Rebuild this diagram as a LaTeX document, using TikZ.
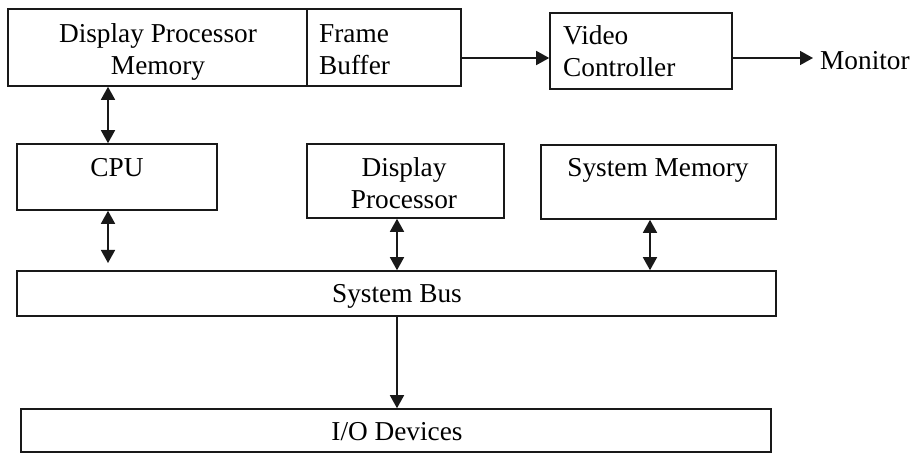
\documentclass[tikz,border=0pt]{standalone}
\usepackage{fontspec}
\setmainfont{Liberation Serif}
\usetikzlibrary{arrows.meta}
\tikzset{
  box/.style={draw=black!90, line width=1.6pt, inner sep=0pt, fill=none},
  txt/.style={inner sep=0pt, font=\fontsize{27.3}{31.5}\selectfont, text=black},
  arr/.style={draw=black!90, line width=1.6pt, -{Triangle[length=13pt,width=14pt]}},
  darr/.style={draw=black!90, line width=1.6pt, {Triangle[length=13pt,width=14pt]}-{Triangle[length=13pt,width=14pt]}}
}
\begin{document}
\begin{tikzpicture}[x=1pt,y=-1pt]
\useasboundingbox (0,0) rectangle (913,454);
% boxes
\node[box, minimum width=299pt, minimum height=77pt] (dpm) at (157.5,47.5) {};
\node[box, minimum width=154pt, minimum height=77pt] (fb)  at (384,47.5) {};
\node[box, minimum width=182pt, minimum height=76pt] (vc)  at (641,51) {};
\node[box, minimum width=200pt, minimum height=66pt] (cpu) at (117,177) {};
\node[box, minimum width=197pt, minimum height=74pt] (dp)  at (405.5,181) {};
\node[box, minimum width=235pt, minimum height=74pt] (sm)  at (658.5,182) {};
\node[box, minimum width=759pt, minimum height=45pt] (bus) at (396.5,293.5) {};
\node[box, minimum width=750pt, minimum height=43pt] (io)  at (396,430.5) {};
% texts
\node[txt, anchor=base] (tdpm) at (158,43) {\begin{tabular}[t]{@{}c@{}}Display Processor\\Memory\end{tabular}};
\node[txt, anchor=base west] (tfb) at (319,43) {\begin{tabular}[t]{@{}l@{}}Frame\\Buffer\end{tabular}};
\node[txt, anchor=base west] (tvc) at (563,45) {\begin{tabular}[t]{@{}l@{}}Video\\Controller\end{tabular}};
\node[txt, anchor=base west, inner xsep=7pt] (mon) at (813,70) {Monitor};
\node[txt, anchor=base] (tcpu) at (117,177) {CPU};
\node[txt, anchor=base] (tdp) at (404,177) {\begin{tabular}[t]{@{}c@{}}Display\\Processor\end{tabular}};
\node[txt, anchor=base] (tsm) at (658,177) {System Memory};
\node[txt, anchor=base] (tbus) at (397,303) {System Bus};
\node[txt, anchor=base] (tio) at (397,440) {I/O Devices};
% helper coordinates
\coordinate (ax) at (108,0);
\coordinate (ay) at (0,58);
\coordinate (bx) at (397,0);
\coordinate (sx) at (650,0);
\coordinate (cpubus) at (108,263);
% connectors
\draw[darr] (dpm.south -| ax) -- (cpu.north -| ax);
\draw[darr] (cpu.south -| ax) -- (cpubus);
\draw[arr] (fb.east |- ay) -- (vc.west |- ay);
\draw[arr] (vc.east |- ay) -- (mon.west |- ay);
\draw[darr] (dp.south -| bx) -- (bus.north -| bx);
\draw[darr] (sm.south -| sx) -- (bus.north -| sx);
\draw[arr] (bus.south -| bx) -- (io.north -| bx);
\end{tikzpicture}
\end{document}
